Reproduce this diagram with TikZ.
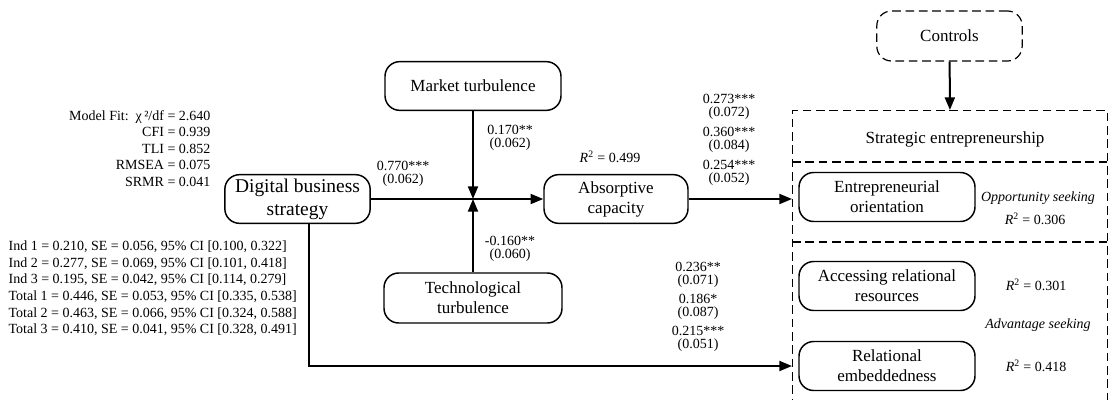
\documentclass[tikz,border=0pt]{standalone}
\usepackage{fontspec}
\setmainfont{Liberation Serif}
\usetikzlibrary{positioning,arrows.meta}

\begin{document}
\begin{tikzpicture}[x=0.75pt,y=-0.75pt,
	var/.style={draw,line width=1.1pt,rounded corners=11pt,align=center,inner sep=0pt,
		minimum width=132pt,minimum height=36.5pt,font=\fontsize{12.75}{15}\selectfont},
	dbox/.style={dashed,dash pattern=on 6.5pt off 3.5pt,line width=0.9pt},
	coef/.style={align=center,inner sep=1pt,font=\fontsize{10.5}{10.2}\selectfont},
	note/.style={inner sep=1pt,font=\fontsize{10.5}{12.45}\selectfont},
	arr/.style={line width=1.5pt,-{Triangle[length=9.5pt,width=7.5pt]}}]
	\useasboundingbox (0,0) rectangle (1108,400);

	\node[var,minimum width=109pt,font=\fontsize{14.6}{17.25}\selectfont] (dbs) at (297.5,199) {Digital business\\strategy};
	\node[var] (mkt) at (473,86) {Market turbulence};
	\node[var,minimum width=133.5pt,minimum height=37.5pt] (tech) at (473,298) {Technological\\turbulence};
	\node[var,minimum width=108pt] (ac) at (616,199) {Absorptive\\capacity};
	\node[var,dbox,minimum width=109pt,minimum height=37.5pt] (ctrl) at (949.5,36) {Controls};

	\node[dbox,draw,inner sep=0pt,minimum width=236pt,minimum height=222pt,anchor=north west] (se) at (792,110) {};
	\node[var,font=\fontsize{12.75}{15}\selectfont,draw=none] (setitle) at (955,139) {Strategic entrepreneurship};
	\draw[dbox] (se.west |- 0,162) -- (se.east |- 0,162);
	\draw[dbox] (se.west |- 0,242) -- (se.east |- 0,242);

	\node[var,minimum height=36.75pt] (eo) at (887,197) {Entrepreneurial\\orientation};
	\node[var,minimum height=36.75pt] (arr) at (887,286) {Accessing relational\\resources};
	\node[var,minimum height=36.75pt] (re) at (887,366) {Relational\\embeddedness};

	\node[note] (opp) at (1038,198) {\textit{Opportunity seeking}};
	\node[note] (r1) at (1035,219) {\textit{R}\textsuperscript{2} = 0.306};
	\node[note] (r2) at (1036,285) {\textit{R}\textsuperscript{2} = 0.301};
	\node[note] (adv) at (1038,325) {\textit{Advantage seeking}};
	\node[note] (r3) at (1036,366) {\textit{R}\textsuperscript{2} = 0.418};
	\node[note] (rac) at (610,157) {\textit{R}\textsuperscript{2} = 0.499};

	\node[note,align=right,anchor=east] (fit) at (212,148.5) {Model Fit:\ \ χ\,²/df = 2.640\\CFI = 0.939\\TLI = 0.852\\RMSEA = 0.075\\SRMR = 0.041};
	\node[note,align=left,anchor=west] (ind) at (7,288.5) {Ind 1 = 0.210, SE = 0.056, 95\% CI [0.100, 0.322]\\
		Ind 2 = 0.277, SE = 0.069, 95\% CI [0.101, 0.418]\\
		Ind 3 = 0.195, SE = 0.042, 95\% CI [0.114, 0.279]\\
		Total 1 = 0.446, SE = 0.053, 95\% CI [0.335, 0.538]\\
		Total 2 = 0.463, SE = 0.066, 95\% CI [0.324, 0.588]\\
		Total 3 = 0.410, SE = 0.041, 95\% CI [0.328, 0.491]};

	\node[coef] (c1) at (403,174) {0.770***\\(0.062)};
	\node[coef] (c2) at (510,138) {0.170**\\(0.062)};
	\node[coef] (c3) at (510,249) {-0.160**\\(0.060)};
	\node[coef] (c4) at (729,107) {0.273***\\(0.072)};
	\node[coef] (c5) at (729,140) {0.360***\\(0.084)};
	\node[coef] (c6) at (729,173) {0.254***\\(0.052)};
	\node[coef] (c7) at (698,275) {0.236**\\(0.071)};
	\node[coef] (c8) at (698,307) {0.186*\\(0.087)};
	\node[coef] (c9) at (698,339) {0.215***\\(0.051)};

	\coordinate (mod) at (mkt.south |- dbs.east);
	\draw[arr] (dbs.east) -- (ac.west);
	\draw[arr] (mkt) -- (mod);
	\draw[arr] (tech) -- (mod);
	\draw[arr] (ac.east) -- (ac.east -| se.west);
	\draw[arr] ([xshift=8.6pt]dbs.south) |- (re.west -| se.west);
	\draw[arr] (ctrl) -- (se.north);
\end{tikzpicture}
\end{document}
